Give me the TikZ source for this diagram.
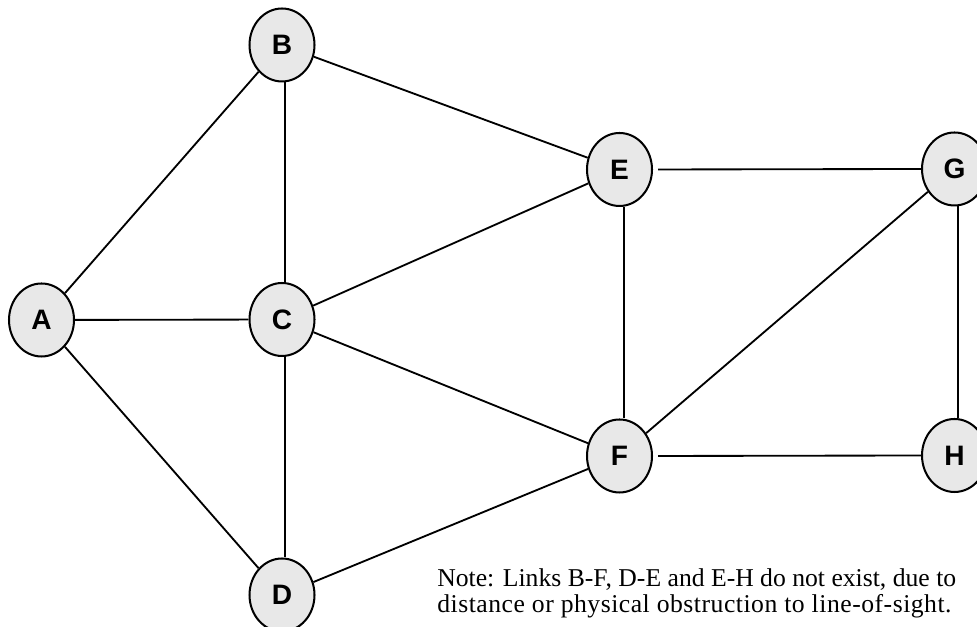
\documentclass[tikz,border=0pt]{standalone}
\usepackage{fontspec}
\setmainfont{Liberation Serif}
\setsansfont{Liberation Sans}
\usetikzlibrary{shapes.geometric}
\definecolor{nodefill}{HTML}{E8E8E8}
\tikzset{
  station/.style={ellipse, draw=black, line width=1.15pt, fill=nodefill,
    minimum width=1.3cm, minimum height=1.46cm, inner sep=0pt,
    font=\fontsize{16}{18}\selectfont\sffamily\bfseries},
  link/.style={draw=black, line width=1.05pt},
  note/.style={inner sep=0pt, align=left, font=\fontsize{14.6}{15.2}\selectfont}
}
\begin{document}
\begin{tikzpicture}
\useasboundingbox (0,0) rectangle (19.54,12.54);
\node[station] (A) at (0.83,6.14) {A};
\node[station] (B) at (5.64,11.64) {B};
\node[station] (C) at (5.64,6.15) {C};
\node[station] (D) at (5.64,0.64) {D};
\node[station] (E) at (12.39,9.15) {E};
\node[station] (F) at (12.39,3.42) {F};
\node[station] (G) at (19.09,9.16) {G};
\node[station] (H) at (19.09,3.43) {H};

\draw[link] (A) -- (B);
\draw[link] (A) -- (C);
\draw[link] (A) -- (D);
\draw[link] ([xshift=0.06cm]B.south) -- ([xshift=0.06cm]C.north);
\draw[link] ([xshift=0.06cm]C.south) -- ([xshift=0.06cm]D.north);
\draw[link] (B) -- (E);
\draw[link] (C) -- (E);
\draw[link] (C) -- (F);
\draw[link] (D) -- (F);
\draw[link] ([xshift=0.09cm]E.south) -- ([xshift=0.09cm]F.north);
\draw[link] ([xshift=0.1cm]E.east) -- (G.west);
\draw[link] ([xshift=0.1cm]F.east) -- (H.west);
\draw[link] (F) -- (G);
\draw[link] ([xshift=0.07cm]G.south) -- ([xshift=0.07cm]H.north);

\node[note, anchor=north west] (note) at (8.74,1.18)
  {Note: Links B-F, D-E and E-H do not exist, due to\\
   {\addfontfeatures{LetterSpace=2.0}distance or physical obstruction to line-of-sight.}};
\end{tikzpicture}
\end{document}
